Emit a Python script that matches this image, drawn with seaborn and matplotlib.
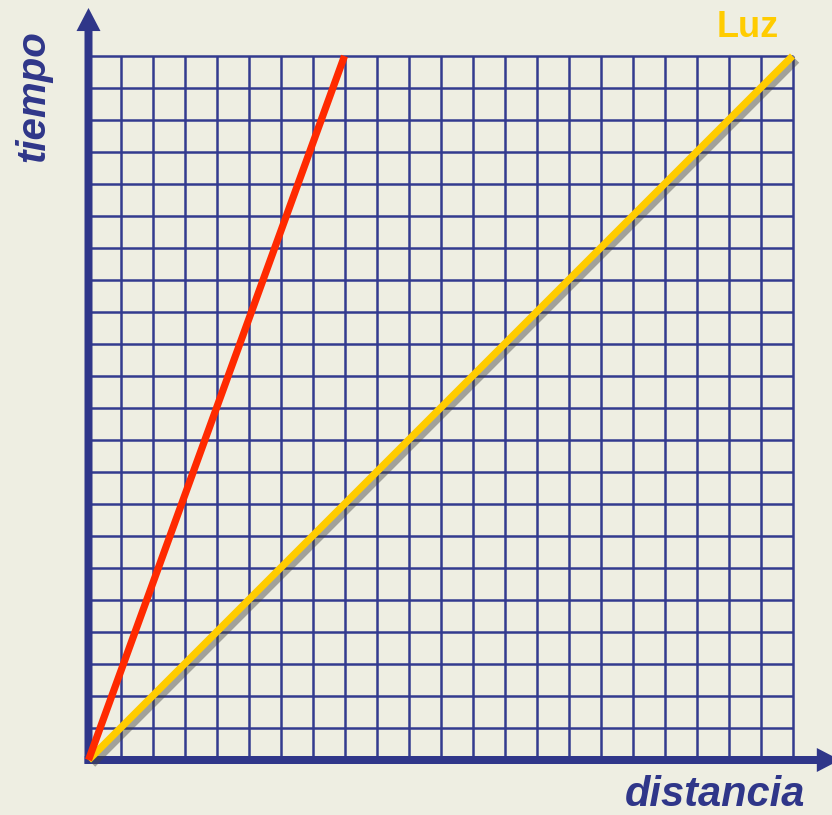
import matplotlib
matplotlib.use('Agg')

import matplotlib.pyplot as plt
import matplotlib.patheffects as pe
from matplotlib.patches import FancyArrow
import seaborn as sns
import numpy as np

# grid cells along each axis
n_cells = 22

# light ray and slower object: (distancia, tiempo)
distancia_luz = [0, 22]
tiempo_luz = [0, 22]
distancia_obj = [0, 8]
tiempo_obj = [0, 22]

NAVY = '#2f3689'
GRID = '#333b8f'
YELLOW = '#ffcc00'
RED = '#ff2a00'
BG = '#eeeee2'

sns.set_style('white')
plt.rcParams['font.family'] = ['Liberation Sans', 'DejaVu Sans']

fig = plt.figure(figsize=(8.32, 8.15), dpi=100, facecolor=BG)
ax = fig.add_axes([0, 0, 1, 1])
ax.set_facecolor(BG)

# 32 px per unit, origin at pixel (88.5, 760)
ax.set_xlim(-88.5 / 32, (832 - 88.5) / 32)
ax.set_ylim(-55 / 32, (815 - 55) / 32)
ax.axis('off')

ticks = np.arange(1, n_cells + 1)
ax.vlines(ticks, 0, n_cells, color=GRID, lw=1.8, zorder=1)
ax.hlines(ticks, 0, n_cells, color=GRID, lw=1.8, zorder=1)

# axes arrows
ax.add_patch(FancyArrow(0, -0.12, 0, 23.62, width=0.25, head_width=0.75,
                        head_length=0.72, length_includes_head=True,
                        color=NAVY, lw=0, zorder=2))
ax.add_patch(FancyArrow(-0.12, 0, 23.6, 0, width=0.25, head_width=0.75,
                        head_length=0.72, length_includes_head=True,
                        color=NAVY, lw=0, zorder=2))

shadow = [pe.SimpleLineShadow(offset=(3, -3), shadow_color='#444444', alpha=0.45),
          pe.Normal()]

sns.lineplot(x=distancia_luz, y=tiempo_luz, ax=ax, color=YELLOW, lw=5.2,
             sort=False, solid_capstyle='butt', path_effects=shadow, zorder=3)
sns.lineplot(x=distancia_obj, y=tiempo_obj, ax=ax, color=RED, lw=5.2,
             sort=False, solid_capstyle='butt', zorder=4)

ax.text(-1.73, 20.75, 'tiempo', rotation=90, ha='center', va='center',
        fontsize=29, fontweight='bold', fontstyle='italic', color=NAVY)
ax.text(22.4, -1.44, 'distancia', ha='right', va='baseline',
        fontsize=30, fontweight='bold', fontstyle='italic', color=NAVY)
ax.text(20.6, 22.9, 'Luz', ha='center', va='center',
        fontsize=26, fontweight='bold', color=YELLOW)

fig.savefig('out.png', dpi=100, facecolor=BG)
plt.close(fig)
